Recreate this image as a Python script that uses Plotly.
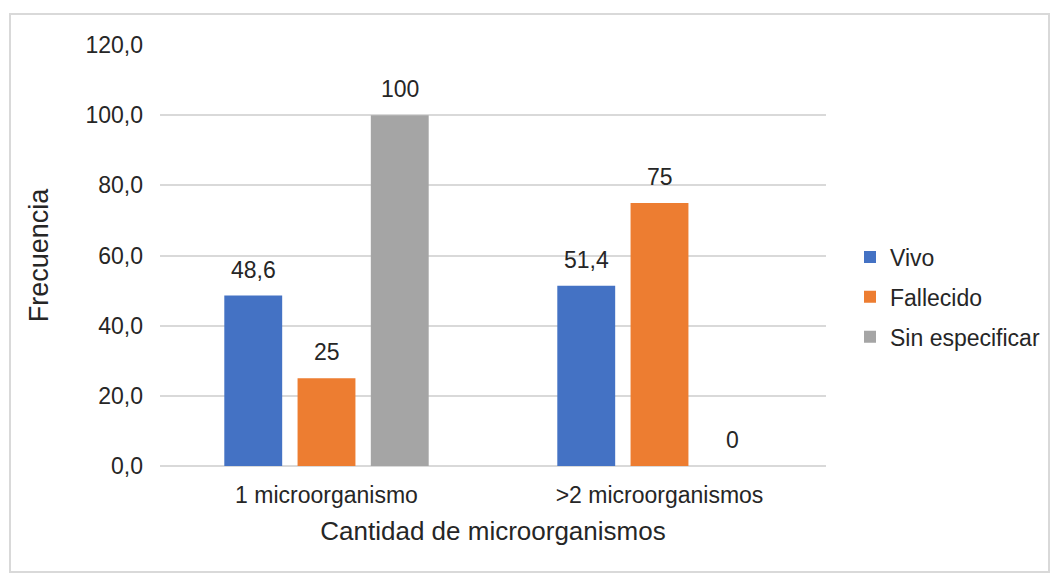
import plotly.graph_objects as go

categories = ["1 microorganismo", ">2 microorganismos"]
vivo = [48.6, 51.4]
fallecido = [25, 75]
sin_especificar = [100, 0]
series_names = ["Vivo", "Fallecido", "Sin especificar"]
colors = ["#4472C4", "#ED7D31", "#A5A5A5"]
y_ticks = [0, 20, 40, 60, 80, 100, 120]


def fmt(v):
    s = f"{v:g}"
    return s.replace(".", ",")


W, H = 1051, 574
L, R, T, B = 160, 826, 45, 466
pw, ph = R - L, B - T
BARGAP, GROUPGAP = 0.34, 0.21
# horizontal distance between neighbouring bars of a group, in pixels
slot = pw / len(categories) * (1 - BARGAP) / len(series_names)

fig = go.Figure()
annotations = []
all_vals = [vivo, fallecido, sin_especificar]
for i, (name, vals, col) in enumerate(zip(series_names, all_vals, colors)):
    fig.add_trace(go.Bar(
        x=categories, y=vals, name=name, legendgroup=name,
        marker=dict(color=col, line=dict(width=0)),
    ))
    for c, v in zip(categories, vals):
        annotations.append(dict(
            x=c, y=v, xref="x", yref="y", text=fmt(v), showarrow=False,
            yanchor="bottom", xanchor="center",
            xshift=(i - 1) * slot, yshift=11,
            font=dict(size=23, color="#262626"),
        ))


def px(x):
    return (x - L) / pw


def py(y):
    return (B - y) / ph


fig.update_layout(
    width=W, height=H,
    margin=dict(l=L, r=W - R, t=T, b=H - B, autoexpand=False),
    paper_bgcolor="white", plot_bgcolor="white",
    font=dict(family="Liberation Sans, Arial, sans-serif", size=23, color="#262626"),
    separators=",.",
    barmode="group", bargap=BARGAP, bargroupgap=GROUPGAP,
    showlegend=True,
    legend=dict(x=px(850), y=py(297), xanchor="left", yanchor="middle",
                font=dict(size=23, color="#262626"),
                traceorder="grouped", tracegroupgap=7,
                bgcolor="rgba(0,0,0,0)"),
    xaxis=dict(title=dict(text="Cantidad de microorganismos", font=dict(size=26), standoff=14),
               showgrid=False, showline=False, ticks="", ticklabelstandoff=13,
               tickfont=dict(size=23), automargin=False),
    yaxis=dict(title=dict(text="Frecuencia", font=dict(size=27), standoff=28),
               range=[0, 120], tickvals=y_ticks, tickformat=".1f",
               showgrid=True, gridcolor="#D9D9D9", gridwidth=1.5,
               zeroline=True, zerolinecolor="#D9D9D9", zerolinewidth=1.5,
               showline=False, ticks="", ticklabelstandoff=16,
               tickfont=dict(size=23), automargin=False),
    annotations=annotations,
    shapes=[dict(type="rect", xref="paper", yref="paper",
                 x0=px(10), x1=px(1049), y0=py(572), y1=py(14),
                 line=dict(color="#D9D9D9", width=2), fillcolor="rgba(0,0,0,0)",
                 layer="below")],
)

fig.write_html("out.html")
